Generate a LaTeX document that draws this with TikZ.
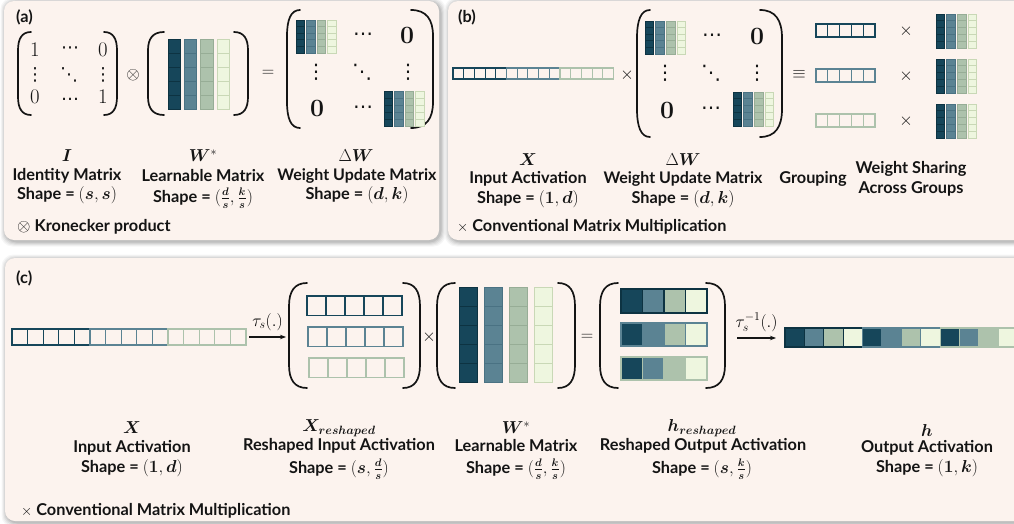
\documentclass[tikz,border=0pt]{standalone}
\usepackage[no-math]{fontspec}
\usepackage{amsmath}
\usepackage{bm}
\setmainfont{Lato}
\newfontfamily\dotfont{DejaVu Sans}
\usetikzlibrary{arrows.meta}

\definecolor{panelbg}{HTML}{FCF3EE}
\definecolor{cDark}{HTML}{16465A}
\definecolor{cMed}{HTML}{5B8393}
\definecolor{cSage}{HTML}{ADC2AC}
\definecolor{cPale}{HTML}{EEF6DF}
\definecolor{cDarkB}{HTML}{0D3342}
\definecolor{cMedB}{HTML}{4A7283}
\definecolor{cSageB}{HTML}{97AD96}
\definecolor{cPaleB}{HTML}{C9D8B6}
\definecolor{inkc}{HTML}{141414}

% big parenthesis: spine x, tip x, top y, bottom y
\newcommand\bigparen[4]{%
  \draw[brk] (#2,#3) .. controls ({#1+0.3*(#2-#1)},#3) and (#1,{#3+0.08*(#4-#3)}) .. (#1,{#3+0.22*(#4-#3)})
    -- (#1,{#4-0.22*(#4-#3)}) .. controls (#1,{#4-0.08*(#4-#3)}) and ({#1+0.3*(#2-#1)},#4) .. (#2,#4);}

% weight block of four columns x five cells: x, y, column width, column pitch, cell height, line width
\newcommand\wblock[6]{%
  \foreach \wi/\wf/\wb in {0/cDark/cDarkB,1/cMed/cMedB,2/cSage/cSageB,3/cPale/cPaleB}{%
    \foreach \wr in {0,...,4}{%
      \filldraw[fill=\wf, draw=\wb, line width=#6] ({#1+\wi*#4},{#2+\wr*#5}) rectangle ++(#3,#5);}}}

% row of empty cells: x, y, width, height, count, colour, line width
\newcommand\cellrow[7]{%
  \foreach \k in {1,...,#5}{\draw[draw=#6, line width=#7] ({#1+(\k-1)*#3},#2) rectangle ++(#3,#4);}}

% row of four filled cells: x, y, width, height, border colour, line width
\newcommand\hrow[6]{%
  \foreach \k/\hf in {0/cDark,1/cMed,2/cSage,3/cPale}{%
    \filldraw[fill=\hf, draw=#5, line width=#6] ({#1+\k*#3},#2) rectangle ++(#3,#4);}}

% panel with a soft shadow: x0, y0, x1, y1
\newcommand\panel[4]{%
  \foreach \e/\o in {5/0.035,4/0.045,3/0.055,2/0.065,1/0.075}{%
    \fill[black, opacity=\o, rounded corners=12pt] ({#1-\e+1.5},{#2-\e+1.5}) rectangle ({#3+\e+1.5},{#4+\e+1.5});}
  \fill[panelbg, rounded corners=10pt] (#1,#2) rectangle (#3,#4);}

\begin{document}
\begin{tikzpicture}[x=1pt, y=-1pt, font=\fontsize{16.3}{18.5}\selectfont\bfseries,
  brk/.style={line width=1.7pt, line cap=round, draw=inkc},
  lbl/.style={inner sep=0pt, align=center, text=inkc},
  sym/.style={inner sep=0pt, text=inkc, font=\fontsize{18}{20}\selectfont},
  ent/.style={inner sep=0pt, text=inkc, font=\fontsize{21}{24}\selectfont},
  dts/.style={inner sep=0pt, text=inkc, font=\fontsize{18}{20}\dotfont},
  bdts/.style={inner sep=0pt, text=inkc, font=\fontsize{20}{22}\dotfont},
  bigz/.style={inner sep=0pt, text=inkc, font=\fontsize{24}{26}\selectfont},
  op/.style={inner sep=0pt, text=inkc, font=\fontsize{19}{21}\selectfont},
  tag/.style={anchor=west, inner sep=0pt, text=inkc},
  flow/.style={-{Stealth[length=6pt,width=4.5pt]}, line width=1.1pt, draw=inkc}]
\useasboundingbox (0,0) rectangle (1014,524);
\fill[white] (0,0) rectangle (1014,524);
\begin{scope}
\clip (0,0) rectangle (1014,524);
\panel{4}{1}{439}{240}
\panel{448}{1}{1030}{240}
\panel{5}{258}{1030}{521}

% ---------------- (a) Kronecker construction ----------------
\node[tag] (tagA) at (16,17) {(a)};
\bigparen{18}{31}{32}{115}
\bigparen{117}{104}{32}{115}
\node[ent] (i11) at (35,50) {$1$};
\node[dts] (i12) at (70,50) {⋯};
\node[ent] (i13) at (103,50) {$0$};
\node[dts] (i21) at (35,75) {⋮};
\node[dts] (i22) at (69,75) {⋱};
\node[dts] (i23) at (103,75) {⋮};
\node[ent] (i31) at (35,97) {$0$};
\node[dts] (i32) at (70,99) {…};
\node[ent] (i33) at (103,97) {$1$};
\node[op] (kron) at (133,75) {$\otimes$};
\bigparen{148}{164}{32}{115}
\bigparen{248}{234}{32}{115}
\wblock{168}{39}{12.5}{16.3}{14}{0.8pt}
\node[op] (eqA) at (268,73) {$=$};
\bigparen{287}{300}{10}{128}
\bigparen{433}{411}{10}{128}
\wblock{296}{20}{8.5}{10.5}{6.6}{0.6pt}
\wblock{384}{91}{8.5}{10.5}{7}{0.6pt}
\node[bdts] (da12) at (363,37) {⋯};
\node[bigz] (da13) at (407,35) {$\mathbf{0}$};
\node[bdts] (da21) at (316,72) {⋮};
\node[bdts] (da22) at (362,72) {⋱};
\node[bdts] (da23) at (408,72) {⋮};
\node[bigz] (da31) at (317,108) {$\mathbf{0}$};
\node[bdts] (da32) at (363,110) {⋯};

\node[sym] (aIsym) at (67,156) {$\bm{I}$};
\node[lbl] (aIname) at (67,176) {Identity Matrix};
\node[lbl] (aIshape) at (67,195) {Shape = $(\bm{s},\bm{s})$};
\node[sym] (aWsym) at (203,156) {$\bm{W}^{*}$};
\node[lbl] (aWname) at (203,176) {Learnable Matrix};
\node[lbl] (aWshape) at (203,198) {Shape = $(\frac{\bm{d}}{\bm{s}},\frac{\bm{k}}{\bm{s}})$};
\node[sym] (aDsym) at (356,156) {$\Delta\bm{W}$};
\node[lbl, font=\fontsize{16}{18.5}\selectfont\bfseries] (aDname) at (357,176) {Weight Update Matrix};
\node[lbl] (aDshape) at (357,195) {Shape = $(\bm{d},\bm{k})$};
\node[tag] (aNote) at (17,227) {$\otimes$ Kronecker product};

% ---------------- (b) grouped multiplication ----------------
\node[tag] (tagB) at (458,17) {(b)};
\cellrow{453}{68}{10.7}{11}{5}{cDark}{1.1pt}
\cellrow{506.5}{68}{10.7}{11}{5}{cMed}{1.1pt}
\cellrow{560}{68}{10.7}{11}{5}{cSage}{1.1pt}
\node[op] (mulB) at (627,75) {$\times$};
\bigparen{637}{650}{10}{137}
\bigparen{782}{760}{10}{137}
\wblock{645}{21}{8.5}{10.7}{6.6}{0.6pt}
\wblock{733}{92}{8.5}{10.7}{6.8}{0.6pt}
\node[bdts] (db12) at (712,38) {⋯};
\node[bigz] (db13) at (757,36) {$\mathbf{0}$};
\node[bdts] (db21) at (665,73) {⋮};
\node[bdts] (db22) at (711,73) {⋱};
\node[bdts] (db23) at (757,73) {⋮};
\node[bigz] (db31) at (667,110) {$\mathbf{0}$};
\node[bdts] (db32) at (711,111) {⋯};
\node[op] (equivB) at (799,74) {$\equiv$};
\cellrow{816}{24}{11.8}{13}{5}{cDark}{1.2pt}
\cellrow{816}{69}{11.8}{13}{5}{cMed}{1.2pt}
\cellrow{816}{114}{11.8}{13}{5}{cSage}{1.2pt}
\node[op] (g1x) at (906,31) {$\times$};
\node[op] (g2x) at (906,76) {$\times$};
\node[op] (g3x) at (906,121) {$\times$};
\wblock{936}{14}{8.5}{10.7}{6.8}{0.6pt}
\wblock{936}{59}{8.5}{10.7}{6.8}{0.6pt}
\wblock{936}{104}{8.5}{10.7}{6.8}{0.6pt}

\node[sym] (bXsym) at (528,160) {$\bm{X}$};
\node[lbl] (bXname) at (528,179) {Input Activation};
\node[lbl] (bXshape) at (528,199) {Shape = $(\mathbf{1},\bm{d})$};
\node[sym] (bDsym) at (683,160) {$\Delta\bm{W}$};
\node[lbl, font=\fontsize{16}{18.5}\selectfont\bfseries] (bDname) at (683,179) {Weight Update Matrix};
\node[lbl] (bDshape) at (683,199) {Shape = $(\bm{d},\bm{k})$};
\node[lbl] (bGname) at (813,179) {Grouping};
\node[lbl] (bSname) at (911,179) {Weight Sharing\\[1pt]Across Groups};
\node[tag] (bNote) at (457,227) {{\fontsize{15.5}{17}\selectfont$\times$} Conventional Matrix Multiplication};

% ---------------- (c) reshaped computation ----------------
\node[tag] (tagC) at (16,278) {(c)};
\cellrow{12}{329}{15.6}{16}{5}{cDark}{1.3pt}
\cellrow{90}{329}{15.6}{16}{5}{cMed}{1.3pt}
\cellrow{168}{329}{15.6}{16}{5}{cSage}{1.3pt}
\coordinate (tauA) at (249,337);
\coordinate (tauB) at (286,337);
\draw[flow] (tauA) -- (tauB) node[midway, above=6pt, inner sep=0pt, font=\fontsize{17}{19}\selectfont] {$\tau_{s}(.)$};

\bigparen{289}{307}{283}{388}
\bigparen{420}{403}{283}{388}
\cellrow{307}{296}{19}{19.5}{5}{cDark}{1.4pt}
\cellrow{308}{327}{19}{19.5}{5}{cMed}{1.4pt}
\cellrow{309}{358}{19}{19.5}{5}{cSage}{1.4pt}
\node[op] (mulC) at (429,337) {$\times$};
\bigparen{437}{455}{283}{388}
\bigparen{575}{558}{283}{388}
\wblock{459}{287}{18.5}{25}{19}{1pt}
\node[op] (eqC) at (587,337) {$=$};
\bigparen{600}{618}{283}{388}
\bigparen{725}{706}{283}{388}
\hrow{621}{289}{21.5}{24}{cDarkB}{1.4pt}
\hrow{621}{323}{21.5}{23}{cMed}{1.4pt}
\hrow{621}{357}{21.5}{23}{cSage}{1.4pt}
\coordinate (itauA) at (737,338);
\coordinate (itauB) at (776,338);
\draw[flow] (itauA) -- (itauB) node[midway, above=6pt, inner sep=0pt, font=\fontsize{17}{19}\selectfont] {$\tau_{s}^{-1}(.)$};
\hrow{785}{328}{19.4}{19}{cDarkB}{1.2pt}
\hrow{862.6}{328}{19.4}{19}{cMed}{1.2pt}
\hrow{940.2}{328}{19.4}{19}{cSage}{1.2pt}

\node[sym] (cXsym) at (132,428) {$\bm{X}$};
\node[lbl] (cXname) at (132,448) {Input Activation};
\node[lbl] (cXshape) at (132,468) {Shape = $(\mathbf{1},\bm{d})$};
\node[sym] (cRsym) at (339,428) {$\bm{X}_{\bm{reshaped}}$};
\node[lbl] (cRname) at (339,446) {Reshaped Input Activation};
\node[lbl] (cRshape) at (339,469) {Shape = $(\bm{s},\frac{\bm{d}}{\bm{s}})$};
\node[sym] (cWsym) at (516,428) {$\bm{W}^{*}$};
\node[lbl] (cWname) at (516,446) {Learnable Matrix};
\node[lbl] (cWshape) at (516,469) {Shape = $(\frac{\bm{d}}{\bm{s}},\frac{\bm{k}}{\bm{s}})$};
\node[sym] (cHsym) at (702,428) {$\bm{h}_{\bm{reshaped}}$};
\node[lbl] (cHname) at (703,446) {Reshaped Output Activation};
\node[lbl] (cHshape) at (702,469) {Shape = $(\bm{s},\frac{\bm{k}}{\bm{s}})$};
\node[sym] (cOsym) at (927,430) {$\bm{h}$};
\node[lbl] (cOname) at (927,448) {Output Activation};
\node[lbl] (cOshape) at (927,468) {Shape = $(\mathbf{1},\bm{k})$};
\node[tag] (cNote) at (21,511) {{\fontsize{15.5}{17}\selectfont$\times$} Conventional Matrix Multiplication};
\end{scope}
\end{tikzpicture}
\end{document}
